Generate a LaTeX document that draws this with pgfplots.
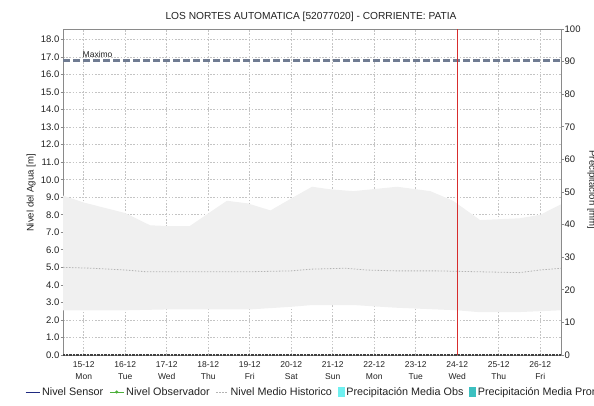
\documentclass[border=0pt]{standalone}
\usepackage{fontspec}
\setmainfont{Liberation Sans}
\usepackage{pgfplots}
\pgfplotsset{compat=1.18}
\usepgfplotslibrary{fillbetween}

\definecolor{bandc}{HTML}{F0F0F0}
\definecolor{gridc}{HTML}{C4C4C4}
\definecolor{axisc}{HTML}{8A8A8A}
\definecolor{maxc}{HTML}{707C92}
\definecolor{fechac}{RGB}{215,45,45}
\definecolor{medc}{HTML}{B4B4B4}
\definecolor{sensorc}{HTML}{1F2A80}
\definecolor{obsc}{HTML}{4CAF3A}
\definecolor{pobs}{HTML}{70F0F0}
\definecolor{ppro}{HTML}{3CC0C0}
\definecolor{txt}{HTML}{222222}

\begin{document}
\begin{tikzpicture}

\begin{axis}[
    at={(63pt,50pt)}, anchor=south west,
    width=498pt, height=326pt, scale only axis,
    xmin=14.5, xmax=26.5, ymin=0, ymax=18.6,
    xtick={15,...,26},
    xticklabels={15-12\\Mon,16-12\\Tue,17-12\\Wed,18-12\\Thu,19-12\\Fri,20-12\\Sat,
                 21-12\\Sun,22-12\\Mon,23-12\\Tue,24-12\\Wed,25-12\\Thu,26-12\\Fri},
    ytick={0,1,...,18},
    yticklabel style={/pgf/number format/fixed, /pgf/number format/fixed zerofill,
        /pgf/number format/precision=1, /pgf/number format/assume math mode=true,
        font=\fontsize{9.5}{10}\selectfont, text=txt, inner sep=1pt},
    xticklabel style={font=\fontsize{8.5}{12}\selectfont, text=txt, align=center,
        inner sep=1pt, yshift=-2.5pt},
    grid=major,
    major grid style={gridc, dash pattern=on 1.6pt off 1.6pt, line width=0.6pt},
    axis line style={axisc, line width=0.8pt},
    tick align=outside, major tick length=2.5pt,
    ytick style={axisc, line width=0.7pt},
    xtick style={draw=none},
    ytick pos=left,
    ylabel={Nivel del Agua [m]},
    ylabel style={at={(axis description cs:-0.064,0.497)}, anchor=center,
                  font=\fontsize{9.6}{10}\selectfont, text=txt},
    legend columns=-1,
    legend style={at={(axis description cs:-0.0763,-0.1135)}, anchor=west,
        draw=none, fill=none, inner sep=0pt,
        font=\fontsize{10.8}{11}\selectfont, text=txt,
        nodes={inner sep=1pt},
        /tikz/every odd column/.style={column sep=1pt},
        /tikz/every even column/.style={column sep=5pt}},
    legend cell align=left,
]

% banda de niveles historicos (max / min)
\addplot[name path=up, draw=none, forget plot] coordinates {
 (14.5,9.1) (15.0,8.7) (16.0,8.1) (16.6,7.4) (17.1,7.35) (17.55,7.35)
 (18.2,8.4) (18.45,8.8) (18.95,8.65) (19.5,8.25) (20.05,9.0) (20.5,9.6)
 (20.95,9.45) (21.5,9.35) (22.55,9.6) (23.35,9.35) (23.9,8.8) (24.55,7.7)
 (25.5,7.8) (26.0,8.0) (26.5,8.6)
};
\addplot[name path=lo, draw=none, forget plot] coordinates {
 (14.5,2.55) (16.0,2.55) (17.0,2.6) (19.0,2.6) (20.0,2.75) (20.5,2.85)
 (21.5,2.85) (22.5,2.7) (24.0,2.55) (24.5,2.45) (25.5,2.45) (26.5,2.55)
};
\addplot[fill=bandc, draw=none, forget plot] fill between[of=up and lo];

% nivel medio historico
\addplot[draw=medc, line width=0.8pt, dash pattern=on 1.5pt off 1.5pt, forget plot] coordinates {
 (14.5,5.0) (15.2,4.95) (16.0,4.85) (16.5,4.75) (17.5,4.75) (19.0,4.75)
 (20.0,4.8) (20.5,4.9) (21.3,4.95) (21.8,4.85) (22.5,4.8) (23.5,4.8)
 (24.5,4.75) (25.5,4.7) (26.0,4.85) (26.5,4.95)
};

% maximo
\addplot[draw=maxc, line width=2.2pt, dash pattern=on 6.5pt off 3.5pt, forget plot]
  coordinates {(14.5,16.8) (26.5,16.8)};
\node[anchor=base west, inner sep=0pt, font=\fontsize{8.5}{9}\selectfont, text=txt]
  at (axis cs:14.97,17.0) {Maximo};

% eje inferior
\draw[black!75, line width=1.2pt, dash pattern=on 0.8pt off 0.6pt]
  (rel axis cs:0,0) -- (rel axis cs:1,0);

\addlegendimage{legend image code/.code={\draw[sensorc, line width=0.9pt] (0pt,0pt) -- (14pt,0pt);}}
\addlegendentry{Nivel Sensor}
\addlegendimage{legend image code/.code={\draw[obsc, line width=0.9pt] (0pt,0pt) -- (14pt,0pt);
   \fill[obsc] (7pt,0pt) circle (1.3pt);}}
\addlegendentry{Nivel Observador}
\addlegendimage{legend image code/.code={\draw[medc, line width=0.9pt, dash pattern=on 1.5pt off 1.5pt] (0pt,0pt) -- (12pt,0pt);}}
\addlegendentry{Nivel Medio Historico}
\addlegendimage{legend image code/.code={\fill[pobs] (0pt,-4.5pt) rectangle (6pt,4.5pt);}}
\addlegendentry{Precipitación Media Obs}
\addlegendimage{legend image code/.code={\fill[ppro] (0pt,-4.5pt) rectangle (6pt,4.5pt);}}
\addlegendentry{Precipitación Media Pronosticada}
\end{axis}

\begin{axis}[
    at={(63pt,50pt)}, anchor=south west,
    width=498pt, height=326pt, scale only axis,
    xmin=14.5, xmax=26.5, ymin=0, ymax=100,
    hide x axis, axis y line*=right,
    ytick={0,10,...,100},
    yticklabel style={font=\fontsize{9.5}{10}\selectfont, text=txt, inner sep=1pt,
                      /pgf/number format/assume math mode=true},
    axis line style={axisc, line width=0.8pt},
    tick align=outside, major tick length=2.5pt,
    ytick style={axisc, line width=0.7pt},
]
% fecha actual (24-12)
\addplot[draw=fechac, line width=1.2pt, mark=none, forget plot]
  coordinates {(24,0) (24,100)};
\end{axis}

% titulo y etiqueta derecha
\node[font=\fontsize{10.2}{11}\selectfont, text=txt] at (311pt,388pt)
  {LOS NORTES AUTOMATICA [52077020] - CORRIENTE: PATIA};
\node[rotate=-90, font=\fontsize{9.6}{10}\selectfont, text=txt] at (592pt,215pt)
  {Precipitación [mm]};

\pgfresetboundingbox
\useasboundingbox (0,0) rectangle (594pt,405pt);
\end{tikzpicture}
\end{document}
